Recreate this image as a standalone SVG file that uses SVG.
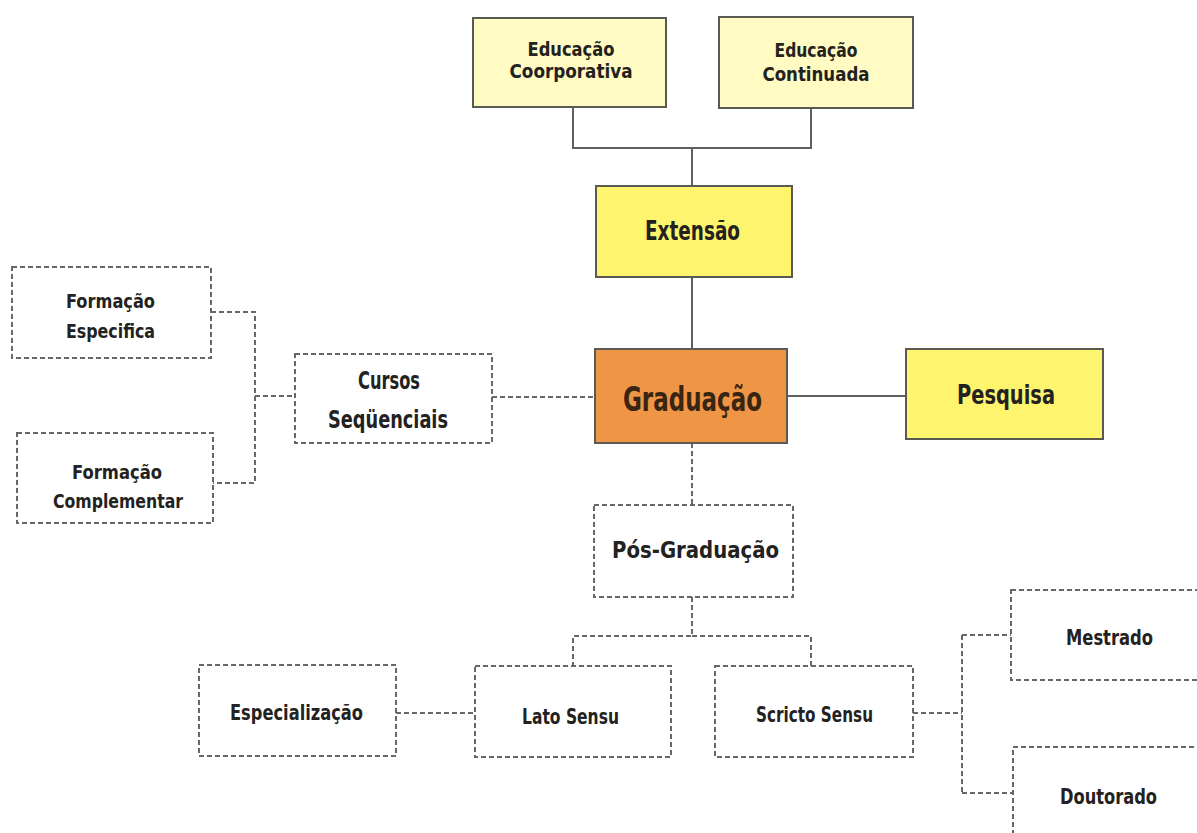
<svg xmlns="http://www.w3.org/2000/svg" width="1197" height="833" viewBox="0 0 1197 833">
<style>
.t{font-family:"DejaVu Sans","Liberation Sans",sans-serif;font-weight:bold;font-stretch:condensed;fill:#232220;text-anchor:middle}
.solid{stroke:#5a5a55;stroke-width:2}
.light{fill:#fffbc2}
.yel{fill:#fff46e}
.org{fill:#ee9645}
.dash{fill:#fff;stroke:#686868;stroke-width:2;stroke-dasharray:5 3}
.conS{fill:none;stroke:#5f5f5f;stroke-width:2}
.conD{fill:none;stroke:#686868;stroke-width:2;stroke-dasharray:5 3}
</style>
<rect width="1197" height="833" fill="#fff"/>
<g id="connectors">
<path class="conS" d="M573 106V148H811V108M692 148V186M692 277V350M787 396H906"/>
<path class="conD" d="M492 397H595M211 312H255V483H213M255 396H295M692 443V505M692 597V636H573V666M692 636H811V666M396 713H475M913 713H962M962 635V793M962 635H1012M962 793H1013"/>
</g>
<g id="n-edu-coorp">
<rect x="473" y="18" width="193" height="89" class="light solid"/>
<text class="t" x="571" y="56" font-size="20" textLength="87" lengthAdjust="spacingAndGlyphs">Educação</text>
<text class="t" x="571" y="78" font-size="20" textLength="123" lengthAdjust="spacingAndGlyphs">Coorporativa</text>
</g>
<g id="n-edu-cont">
<rect x="719" y="17" width="194" height="91" class="light solid"/>
<text class="t" x="816" y="57" font-size="20" textLength="83" lengthAdjust="spacingAndGlyphs">Educação</text>
<text class="t" x="816" y="81" font-size="20" textLength="107" lengthAdjust="spacingAndGlyphs">Continuada</text>
</g>
<g id="n-extensao">
<rect x="596" y="186" width="196" height="91" class="yel solid"/>
<text class="t" x="692.5" y="240" font-size="27" textLength="95" lengthAdjust="spacingAndGlyphs">Extensão</text>
</g>
<g id="n-graduacao">
<rect x="595" y="349" width="192" height="94" class="org solid"/>
<text class="t" x="692.5" y="411" font-size="33" textLength="139" lengthAdjust="spacingAndGlyphs" style="fill:#3a2412">Graduação</text>
</g>
<g id="n-pesquisa">
<rect x="906" y="349" width="197" height="90" class="yel solid"/>
<text class="t" x="1006" y="404" font-size="27" textLength="98" lengthAdjust="spacingAndGlyphs">Pesquisa</text>
</g>
<g id="n-cursos">
<rect x="295" y="354" width="197" height="89" class="dash"/>
<text class="t" x="389" y="389" font-size="25" textLength="62" lengthAdjust="spacingAndGlyphs">Cursos</text>
<text class="t" x="388" y="428" font-size="25" textLength="120" lengthAdjust="spacingAndGlyphs">Seqüenciais</text>
</g>
<g id="n-form-esp">
<rect x="12" y="267" width="199" height="91" class="dash"/>
<text class="t" x="110.5" y="308" font-size="20" textLength="89" lengthAdjust="spacingAndGlyphs">Formação</text>
<text class="t" x="110.5" y="338" font-size="20" textLength="89" lengthAdjust="spacingAndGlyphs">Especifica</text>
</g>
<g id="n-form-comp">
<rect x="17" y="433" width="196" height="90" class="dash"/>
<text class="t" x="117" y="479" font-size="20" textLength="90" lengthAdjust="spacingAndGlyphs">Formação</text>
<text class="t" x="118" y="508" font-size="20" textLength="130" lengthAdjust="spacingAndGlyphs">Complementar</text>
</g>
<g id="n-pos">
<rect x="594" y="505" width="199" height="92" class="dash"/>
<text class="t" x="695.5" y="558" font-size="23" textLength="167" lengthAdjust="spacingAndGlyphs">Pós-Graduação</text>
</g>
<g id="n-especializacao">
<rect x="199" y="665" width="197" height="91" class="dash"/>
<text class="t" x="296.5" y="720" font-size="21" textLength="133" lengthAdjust="spacingAndGlyphs">Especialização</text>
</g>
<g id="n-lato">
<rect x="475" y="666" width="196" height="91" class="dash"/>
<text class="t" x="570.5" y="724" font-size="21" textLength="97" lengthAdjust="spacingAndGlyphs">Lato Sensu</text>
</g>
<g id="n-scricto">
<rect x="715" y="666" width="198" height="91" class="dash"/>
<text class="t" x="814.5" y="722" font-size="21" textLength="117" lengthAdjust="spacingAndGlyphs">Scricto Sensu</text>
</g>
<g id="n-mestrado">
<rect x="1011" y="590" width="200" height="90" class="dash"/>
<text class="t" x="1109.5" y="645" font-size="21" textLength="87" lengthAdjust="spacingAndGlyphs">Mestrado</text>
</g>
<g id="n-doutorado">
<rect x="1013" y="747" width="200" height="100" class="dash"/>
<text class="t" x="1108.5" y="804" font-size="21" textLength="97" lengthAdjust="spacingAndGlyphs">Doutorado</text>
</g>
</svg>
